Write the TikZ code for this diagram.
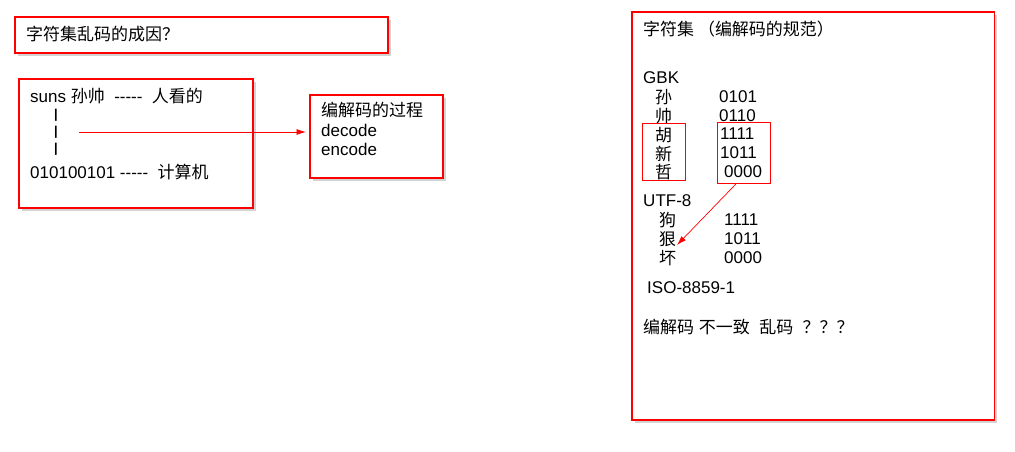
\documentclass[tikz,border=0pt]{standalone}
\usepackage{fontspec}
\setmainfont{Liberation Sans}
\newfontfamily\cjk{Noto Sans CJK SC}
\usetikzlibrary{arrows.meta,shadows}

\begin{document}
\begin{tikzpicture}[x=0.03cm, y=-0.03cm]
\tikzstyle{box} = [draw=red, line width=0.9pt, fill=white, inner sep=0pt, outer sep=0pt, anchor=north west, drop shadow={opacity=0.35, shadow xshift=0.09cm, shadow yshift=-0.09cm}]
\tikzstyle{mark box} = [draw=red, line width=0.8pt, inner sep=0pt, anchor=north west]
\tikzstyle{txt} = [anchor=west, inner sep=0pt, font=\fontsize{14.5}{17}\selectfont]
\tikzstyle{bar} = [anchor=west, inner sep=0pt, font=\fontsize{11}{13}\selectfont\bfseries]
\tikzstyle{link} = [-{Latex[length=8pt, width=5pt]}, draw=red, line width=0.6pt]
\useasboundingbox (0,0) rectangle (1015,452);
% boxes
\node[box, minimum width=11.19cm, minimum height=1.08cm] (title) at (15,17) {};
\node[box, minimum width=7.02cm, minimum height=3.87cm] (human) at (19,79) {};
\node[box, minimum width=3.99cm, minimum height=2.49cm] (coding) at (310,95) {};
\node[box, minimum width=10.86cm, minimum height=12.24cm] (charset) at (632,12) {};
% left part
\node[txt] (q) at (26,34) {\cjk 字符集乱码的成因？};
\node[txt] (h1) at (30,96) {suns {\cjk 孙帅}\ \ -{}-{}-{}-{}-\ \ {\cjk 人看的}};
\node[bar] (bar1) at (54,115) {|};
\node[bar] (bar2) at (54,132) {|};
\node[bar] (bar3) at (54,149) {|};
\node[txt] (h2) at (30,172) {010100101 -{}-{}-{}-{}-\ \ {\cjk 计算机}};
\node[txt] (c1) at (321,110) {\cjk 编解码的过程};
\node[txt] (c2) at (321,130) {decode};
\node[txt] (c3) at (321,149) {encode};
\coordinate (start) at (79,132);
\draw[link] (start) -- (306,132);
% right part
\node[txt] (spec) at (643,29) {\cjk 字符集 （编解码的规范）};
\node[txt] (gbk) at (643,78) {GBK};
\node[txt] (g1) at (655,97) {\cjk 孙};
\node[txt] (g2) at (655,116) {\cjk 帅};
\node[txt] (g3) at (655,135) {\cjk 胡};
\node[txt] (g4) at (655,154) {\cjk 新};
\node[txt] (g5) at (655,172) {\cjk 哲};
\node[txt] (b1) at (719,97) {0101};
\node[txt] (b2) at (719,116) {0110};
\node[txt] (b3) at (720,134) {1111};
\node[txt] (b4) at (720,153) {1011};
\node[txt] (b5) at (724,172) {0000};
\node[mark box, minimum width=1.29cm, minimum height=1.71cm] (gsel) at (642,123) {};
\node[mark box, minimum width=1.59cm, minimum height=1.83cm] (bsel) at (717,122) {};
\node[txt] (utf) at (643,201) {UTF-8};
\node[txt] (u1) at (659,220) {\cjk 狗};
\node[txt] (u2) at (659,239) {\cjk 狠};
\node[txt] (u3) at (659,258) {\cjk 坏};
\node[txt] (v1) at (724,220) {1111};
\node[txt] (v2) at (724,239) {1011};
\node[txt] (v3) at (724,258) {0000};
\node[txt] (iso) at (647,288) {ISO-8859-1};
\node[txt] (msg) at (643,327) {{\cjk 编解码} {\cjk 不一致}\ \ {\cjk 乱码}\ \ {\cjk ？？？}};
\coordinate (hit) at (677,245);
\draw[link] (bsel.south) ++(-8,0) -- (hit);
\end{tikzpicture}
\end{document}
